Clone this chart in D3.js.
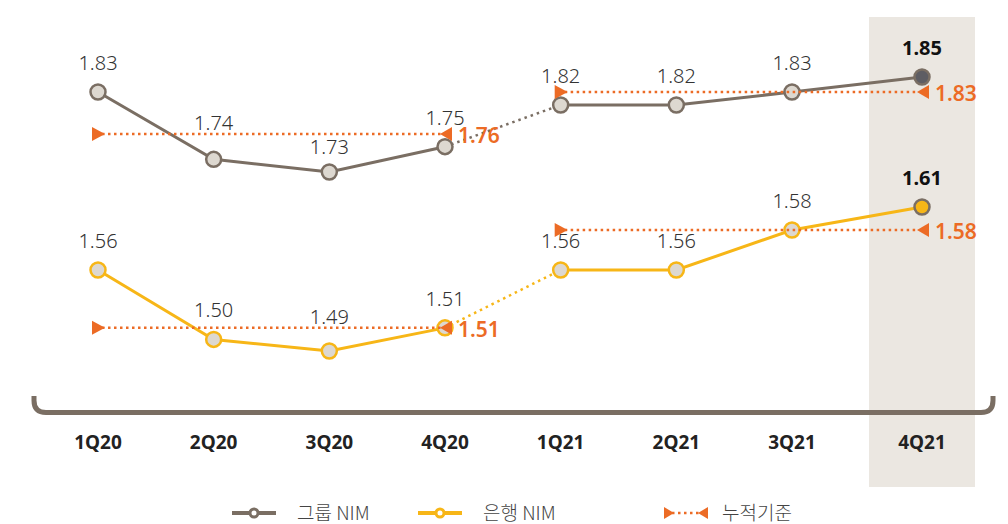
<!DOCTYPE html>
<html>
<head>
<meta charset="utf-8">
<script src="https://cdn.jsdelivr.net/npm/d3@7"></script>
<style>
	body { margin: 0; background: #fff; }
	svg { display: block; font-family: "Noto Sans", "Noto Sans CJK KR", sans-serif; }
</style>
</head>
<body>
<div id="chartDiv"></div>
<script>
;(function() {

	var width = 1008;
	var height = 524;

	// data
	var categories = ["1Q20", "2Q20", "3Q20", "4Q20", "1Q21", "2Q21", "3Q21", "4Q21"];
	var groupNim = [1.83, 1.74, 1.73, 1.75, 1.82, 1.82, 1.83, 1.85];
	var bankNim = [1.56, 1.50, 1.49, 1.51, 1.56, 1.56, 1.58, 1.61];
	var groupCumulative = [
		{ from: "1Q20", to: "4Q20", value: 1.76 },
		{ from: "1Q21", to: "4Q21", value: 1.83 }
	];
	var bankCumulative = [
		{ from: "1Q20", to: "4Q20", value: 1.51 },
		{ from: "1Q21", to: "4Q21", value: 1.58 }
	];
	var legendLabels = ["그룹 NIM", "은행 NIM", "누적기준"];

	var colors = {
		group: "#7a6e63",
		bank: "#f7b617",
		cum: "#ec6b25",
		pointFill: "#ddd8d0",
		groupLast: "#5e5d63",
		highlight: "#ebe7e1",
		text: "#333333"
	};

	var svg = d3.select("#chartDiv").append("svg")
		.attr("width", width)
		.attr("height", height);

	// x: even quarters, last (highlighted) quarter set a bit further out
	var xIndex = d3.scaleLinear()
		.domain([0, 6, 7])
		.range([98, 792, 922]);
	var x = function(c) { return xIndex(categories.indexOf(c)); };

	// two y scales, one per block; the source chart is not drawn to scale,
	// so these are piecewise, calibrated off the picture
	var yGroup = d3.scaleLinear()
		.domain([1.73, 1.76, 1.82, 1.83, 1.85])
		.range([172, 134, 105, 92, 77]);
	var yBank = d3.scaleLinear()
		.domain([1.49, 1.56, 1.58, 1.61])
		.range([351, 270, 230, 207]);

	// highlight column
	svg.append("rect")
		.attr("x", x("4Q21") - 53)
		.attr("y", 17)
		.attr("width", 106)
		.attr("height", 470)
		.style("fill", colors.highlight);

	// bracket axis
	var bracketY = 412.5;
	svg.append("path")
		.attr("d", "M34,396 L34," + (bracketY - 12) + " Q34," + bracketY + " 46," + bracketY +
			" L981," + bracketY + " Q993," + bracketY + " 993," + (bracketY - 12) + " L993,396")
		.style("fill", "none")
		.style("stroke", colors.group)
		.style("stroke-width", 5);

	var xAxis = d3.axisBottom(d3.scalePoint().domain(categories).range([0, 1]))
		.tickSize(0)
		.tickPadding(0);
	var axisG = svg.append("g")
		.attr("class", "x axis")
		.call(xAxis);
	axisG.select(".domain").remove();
	axisG.selectAll(".tick")
		.attr("transform", function(d) { return "translate(" + x(d) + ",0)"; });
	axisG.selectAll(".tick text")
		.attr("y", 449)
		.attr("dy", null)
		.style("font-size", "19px")
		.style("font-weight", "bold")
		.style("font-family", "'Noto Sans', sans-serif")
		.style("fill", "#222");

	// keep a value label clear of a cumulative line running through it:
	// drop it under the line if there's room above the point, else lift it
	function labelY(c, py, cum, yScale) {
		var ly = py - 22;
		cum.forEach(function(s) {
			var i = categories.indexOf(c);
			if (i < categories.indexOf(s.from) || i > categories.indexOf(s.to)) return;
			var cy = yScale(s.value);
			if (cy > ly - 18 && cy < ly + 4) {
				ly = (cy + 20 <= py - 13) ? cy + 20 : cy - 4;
			}
		});
		return ly;
	}

	function drawSeries(values, yScale, lineColor, lastFill, cum) {
		var pts = values.map(function(v, i) { return { c: categories[i], v: v, i: i }; });
		var line = d3.line()
			.x(function(d) { return x(d.c); })
			.y(function(d) { return yScale(d.v); });

		svg.append("path")
			.datum(pts.slice(0, 4))
			.attr("d", line)
			.style("fill", "none").style("stroke", lineColor).style("stroke-width", 3);
		svg.append("path")
			.datum(pts.slice(4))
			.attr("d", line)
			.style("fill", "none").style("stroke", lineColor).style("stroke-width", 3);
		svg.append("path")
			.datum(pts.slice(3, 5))
			.attr("d", line)
			.style("fill", "none").style("stroke", lineColor).style("stroke-width", 2.5)
			.style("stroke-dasharray", "2.5,4");

		svg.selectAll(null)
			.data(pts)
			.enter().append("circle")
				.attr("cx", function(d) { return x(d.c); })
				.attr("cy", function(d) { return yScale(d.v); })
				.attr("r", 7.5)
				.style("fill", function(d) { return d.i === 7 ? lastFill : colors.pointFill; })
				.style("stroke", function(d) { return d.i === 7 ? colors.group : lineColor; })
				.style("stroke-width", 2.5);

		svg.selectAll(null)
			.data(pts)
			.enter().append("text")
				.attr("x", function(d) { return x(d.c); })
				.attr("y", function(d) { return labelY(d.c, yScale(d.v), cum, yScale); })
				.attr("text-anchor", "middle")
				.style("font-size", "20px")
				.style("font-weight", function(d) { return d.i === 7 ? "bold" : 300; })
				.style("fill", function(d) { return d.i === 7 ? "#111" : colors.text; })
				.text(function(d) { return d.v.toFixed(2); });
	}

	function drawCumulative(segments, yScale) {
		var tri = 7;
		segments.forEach(function(s) {
			var y = yScale(s.value);
			var x0 = x(s.from), x1 = x(s.to);
			svg.append("line")
				.attr("x1", x0 + 4).attr("x2", x1 - 4)
				.attr("y1", y).attr("y2", y)
				.style("stroke", colors.cum)
				.style("stroke-width", 2.5)
				.style("stroke-dasharray", "2.5,3.5");
			svg.append("path")
				.attr("d", "M" + (x0 - 6) + "," + (y - tri) + " L" + (x0 + 7) + "," + y + " L" + (x0 - 6) + "," + (y + tri) + "Z")
				.style("fill", colors.cum);
			svg.append("path")
				.attr("d", "M" + (x1 + 7) + "," + (y - tri) + " L" + (x1 - 5) + "," + y + " L" + (x1 + 7) + "," + (y + tri) + "Z")
				.style("fill", colors.cum);
			svg.append("text")
				.attr("x", x1 + 13)
				.attr("y", y + 9)
				.style("font-size", "21px")
				.style("font-weight", 600)
				.style("fill", colors.cum)
				.text(s.value.toFixed(2));
		});
	}

	drawSeries(groupNim, yGroup, colors.group, colors.groupLast, groupCumulative);
	drawSeries(bankNim, yBank, colors.bank, colors.bank, bankCumulative);
	drawCumulative(groupCumulative, yGroup);
	drawCumulative(bankCumulative, yBank);

	// legend
	var legend = svg.append("g").attr("transform", "translate(0,513)");
	var legendItems = [
		{ x: 232, color: colors.group, type: "line" },
		{ x: 418, color: colors.bank, type: "line" },
		{ x: 664, color: colors.cum, type: "cum" }
	];
	legendItems.forEach(function(it, i) {
		if (it.type === "line") {
			legend.append("line")
				.attr("x1", it.x).attr("x2", it.x + 44)
				.attr("y1", 0).attr("y2", 0)
				.style("stroke", it.color).style("stroke-width", 4);
			legend.append("circle")
				.attr("cx", it.x + 22).attr("cy", 0).attr("r", 4)
				.style("fill", "#fff").style("stroke", it.color).style("stroke-width", 3);
		} else {
			legend.append("line")
				.attr("x1", it.x + 8).attr("x2", it.x + 36)
				.attr("y1", 0).attr("y2", 0)
				.style("stroke", it.color).style("stroke-width", 2.5)
				.style("stroke-dasharray", "2.5,3.5");
			legend.append("path")
				.attr("d", "M" + it.x + ",-6 L" + (it.x + 10) + ",0 L" + it.x + ",6Z")
				.style("fill", it.color);
			legend.append("path")
				.attr("d", "M" + (it.x + 44) + ",-6 L" + (it.x + 34) + ",0 L" + (it.x + 44) + ",6Z")
				.style("fill", it.color);
		}
		legend.append("text")
			.attr("x", it.type === "line" ? it.x + 65 : it.x + 58)
			.attr("y", 7)
			.style("font-size", "19px")
			.style("font-family", "'Noto Sans CJK KR', sans-serif")
			.style("font-weight", 300)
			.style("fill", "#444")
			.text(legendLabels[i]);
	});

})();
</script>
</body>
</html>
